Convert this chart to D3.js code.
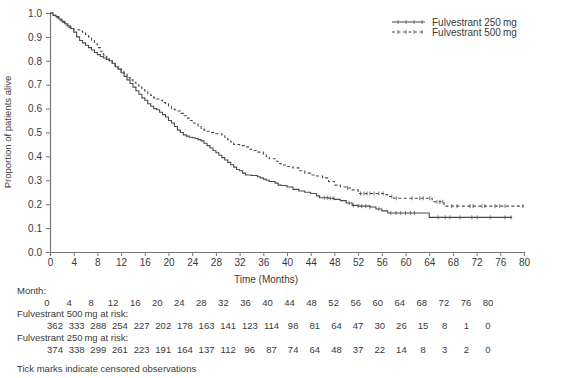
<!DOCTYPE html>
<html>
<head>
<meta charset="utf-8">
<title></title>
<script src="https://cdn.jsdelivr.net/npm/d3@7"></script>
<style>
  body{margin:0;background:#fff;}
  text{font-family:"Liberation Sans",Arial,sans-serif;fill:#3a3a3a;}
</style>
</head>
<body>
<script>
// risk table
const months=[0,4,8,12,16,20,24,28,32,36,40,44,48,52,56,60,64,68,72,76,80];
const atRisk500=[362,333,288,254,227,202,178,163,141,123,114,98,81,64,47,30,26,15,8,1,0];
const atRisk250=[374,338,299,261,223,191,164,137,112,96,87,74,64,48,37,22,14,8,3,2,0];
const yTicks=[0,0.1,0.2,0.3,0.4,0.5,0.6,0.7,0.8,0.9,1.0];

// KM step points [month, proportion alive]
const km250=[[0,1],[0.5,0.99],[1,0.985],[1.5,0.975],[2,0.965],[2.5,0.955],[3,0.945],[3.5,0.935],[4,0.92],[4.5,0.9],
  [5,0.885],[5.5,0.875],[6,0.865],[6.5,0.855],[7,0.845],[7.5,0.835],[8,0.826],[8.5,0.818],[9,0.812],[9.5,0.806],[10,0.8],
  [10.5,0.79],[11,0.775],[11.5,0.765],[12,0.75],[12.5,0.735],[13,0.72],[13.5,0.705],[14,0.69],[14.5,0.675],[15,0.66],
  [15.5,0.645],[16,0.635],[16.5,0.62],[17,0.61],[17.5,0.6],[18,0.595],[18.5,0.585],[19,0.575],[19.5,0.565],[20,0.55],
  [20.5,0.54],[21,0.525],[21.5,0.51],[22,0.5],[22.5,0.49],[23,0.485],[23.5,0.48],[24,0.478],[24.5,0.475],[25,0.47],
  [25.5,0.465],[26,0.455],[26.5,0.445],[27,0.435],[27.5,0.425],[28,0.415],[28.5,0.405],[29,0.395],[29.5,0.385],[30,0.375],
  [30.5,0.365],[31,0.355],[31.5,0.345],[32,0.34],[32.5,0.33],[33,0.322],[34,0.32],[35,0.315],[35.5,0.31],[36,0.305],
  [36.5,0.3],[37,0.295],[38,0.288],[38.5,0.28],[39,0.278],[40,0.272],[41,0.262],[42,0.255],[43,0.25],[44,0.245],
  [45,0.235],[45.5,0.227],[47,0.225],[48,0.22],[49,0.215],[50,0.205],[51,0.195],[52,0.192],[54,0.188],[55,0.18],
  [56,0.172],[57,0.163],[64,0.145],[78,0.145]];
const km500=[[0,1],[0.5,0.99],[1,0.98],[1.5,0.97],[2,0.96],[2.5,0.95],[3,0.94],[3.5,0.935],[4,0.93],[5,0.925],
  [5.5,0.92],[6,0.91],[6.5,0.9],[7,0.885],[7.5,0.87],[8,0.855],[8.5,0.84],[9,0.825],[9.5,0.815],[10,0.8],
  [10.5,0.79],[11,0.78],[11.5,0.765],[12,0.755],[12.5,0.745],[13,0.73],[13.5,0.72],[14,0.71],[14.5,0.7],[15,0.69],
  [15.5,0.68],[16,0.67],[16.5,0.66],[17,0.655],[17.5,0.645],[18,0.64],[18.5,0.635],[19,0.625],[19.5,0.62],[20,0.61],
  [20.5,0.6],[21,0.595],[21.5,0.59],[22,0.58],[22.5,0.57],[23,0.56],[23.5,0.55],[24,0.54],[24.5,0.535],[25,0.525],
  [25.5,0.515],[26,0.51],[26.5,0.505],[27,0.5],[28,0.495],[29,0.49],[29.5,0.48],[30,0.47],[30.5,0.46],[31,0.45],
  [32,0.445],[33,0.44],[33.5,0.43],[34,0.425],[35,0.418],[36,0.41],[36.5,0.4],[37,0.39],[38,0.38],[38.5,0.37],
  [39,0.364],[40,0.358],[41,0.352],[42,0.34],[43,0.33],[44,0.322],[45,0.318],[46,0.31],[47,0.295],[48,0.28],
  [49,0.272],[50,0.268],[51,0.26],[52,0.245],[56.5,0.24],[57,0.232],[58,0.225],[64.5,0.21],[66.5,0.192],[80,0.192]];

// censored observations (months)
const cens250=[46.3,46.8,47.3,47.8,50.5,51.2,52,52.6,53.3,54,55.5,57.5,58.4,59.2,60,60.8,61.5,65.5,66.7,67.5,69.2,71.2,72.1,74.3,76.8,77.8];
const cens500=[50.2,52.4,53,53.5,54,54.7,55.5,56.2,57.7,58.5,61.1,62.4,63,64.1,65.3,65.8,66.3,67.8,68.7,70.9,71.4,72.9,73.4,75.1,75.9,76.8,79.8];

const W=561,H=378;
const svg=d3.select('body').append('svg').attr('width',W).attr('height',H);

const x=d3.scaleLinear().domain([0,80]).range([50,524]);
const y=d3.scaleLinear().domain([0,1]).range([252,13]);

//axes
const gx=svg.append('g').attr('transform','translate(0,252)')
  .call(d3.axisBottom(x).tickValues(months).tickSize(4).tickPadding(3).tickFormat(d3.format('d')));
const gy=svg.append('g').attr('transform','translate(50,0)')
  .call(d3.axisLeft(y).tickValues(yTicks).tickSize(4).tickPadding(4).tickFormat(d3.format('.1f')));
[gx,gy].forEach(g=>{
  g.select('.domain').attr('stroke','#777').attr('stroke-width',1.2);
  g.selectAll('.tick line').attr('stroke','#777');
  g.selectAll('.tick text').attr('font-size',10).attr('fill','#3a3a3a').attr('font-family','"Liberation Sans",Arial,sans-serif');
});

svg.append('text').attr('transform','translate(11,132) rotate(-90)')
  .attr('text-anchor','middle').attr('font-size',9.5).text('Proportion of patients alive');
svg.append('text').attr('x',266).attr('y',283).attr('text-anchor','middle')
  .attr('font-size',10).text('Time (Months)');

//curves
const line=d3.line().x(d=>x(d[0])).y(d=>y(d[1])).curve(d3.curveStepAfter);
const survAt=(data,t)=>{
  const i=d3.bisector(d=>d[0]).right(data,t)-1;
  return data[Math.max(0,i)][1];
};
const series=[
  {data:km250,cens:cens250,dash:null},
  {data:km500,cens:cens500,dash:'3,2.5'}
];
series.forEach(s=>{
  svg.append('path').attr('d',line(s.data)).attr('fill','none')
    .attr('stroke','#4a4a4a').attr('stroke-width',1.1)
    .attr('stroke-dasharray',s.dash);
  svg.append('g').selectAll('line').data(s.cens).join('line')
    .attr('x1',d=>x(d)).attr('x2',d=>x(d))
    .attr('y1',d=>y(survAt(s.data,d))-2).attr('y2',d=>y(survAt(s.data,d))+2)
    .attr('stroke','#555').attr('stroke-width',0.8);
});

//legend
const legend=[
  {label:'Fulvestrant 250\u2009mg',dash:null,y:22},
  {label:'Fulvestrant 500\u2009mg',dash:'3,2.5',y:32}
];
const lg=svg.append('g');
legend.forEach(l=>{
  lg.append('line').attr('x1',392).attr('x2',425).attr('y1',l.y).attr('y2',l.y)
    .attr('stroke','#4a4a4a').attr('stroke-width',1).attr('stroke-dasharray',l.dash);
  lg.selectAll(null).data([398,406,414,422]).join('line')
    .attr('x1',d=>d).attr('x2',d=>d).attr('y1',l.y-2).attr('y2',l.y+2)
    .attr('stroke','#555').attr('stroke-width',0.8);
  lg.append('text').attr('x',432).attr('y',l.y+3.5).attr('font-size',10).text(l.label);
});

//risk table
const colM=d3.scaleLinear().domain([0,80]).range([47,488]);
const colN=d3.scaleLinear().domain([0,80]).range([55,488]);
const tfs=9.5;
svg.append('text').attr('x',17).attr('y',294).attr('font-size',tfs).text('Month:');
svg.append('g').selectAll('text').data(months).join('text')
  .attr('x',d=>colM(d)).attr('y',306).attr('text-anchor','middle').attr('font-size',tfs).text(d=>d);
svg.append('text').attr('x',17).attr('y',317).attr('font-size',tfs).text('Fulvestrant 500\u2009mg at risk:');
svg.append('g').selectAll('text').data(atRisk500).join('text')
  .attr('x',(d,i)=>colN(months[i])).attr('y',329).attr('text-anchor','middle').attr('font-size',tfs).text(d=>d);
svg.append('text').attr('x',17).attr('y',341).attr('font-size',tfs).text('Fulvestrant 250\u2009mg at risk:');
svg.append('g').selectAll('text').data(atRisk250).join('text')
  .attr('x',(d,i)=>colN(months[i])).attr('y',353).attr('text-anchor','middle').attr('font-size',tfs).text(d=>d);
svg.append('text').attr('x',17).attr('y',372).attr('font-size',tfs).text('Tick marks indicate censored observations');
</script>
</body>
</html>
